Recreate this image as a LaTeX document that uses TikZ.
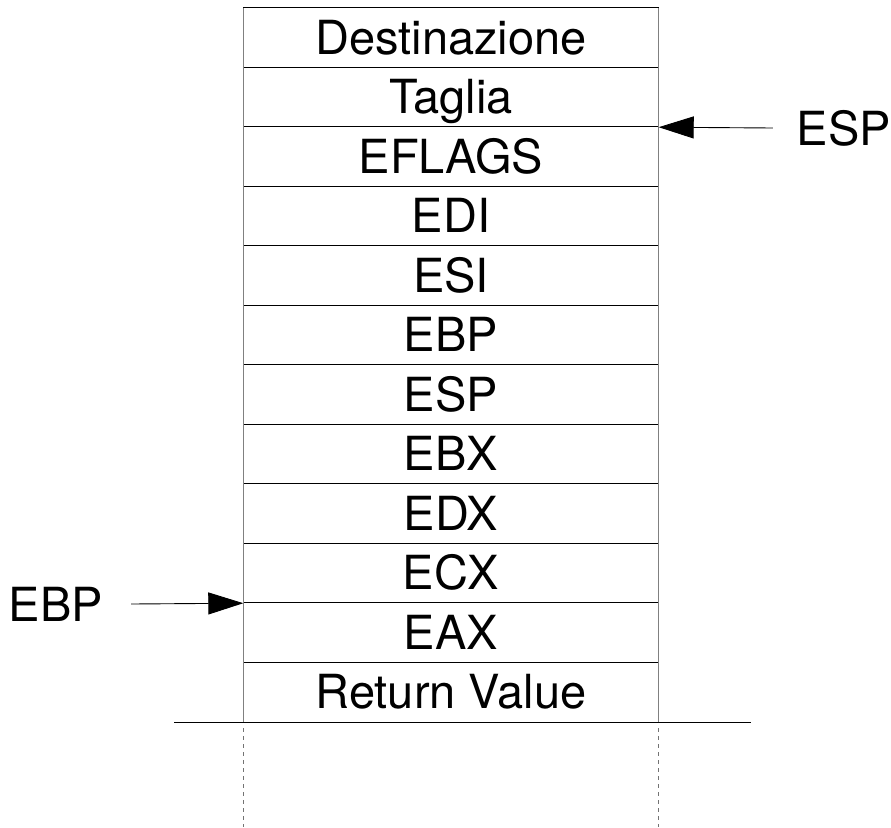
\documentclass[tikz,border=0pt]{standalone}
\usepackage{fontspec}
\setmainfont{TeX Gyre Heros}
\usetikzlibrary{arrows.meta,positioning,calc}

\tikzset{
  cell/.style={minimum width=415pt, minimum height=59.5pt, inner sep=0pt,
    text height=33pt, text depth=0pt, font=\fontsize{47}{50}\selectfont},
  hline/.style={black, line width=1.1pt},
  vline/.style={gray, line width=1.1pt},
  guide/.style={gray!90!black, line width=1.4pt, dash pattern=on 4pt off 4pt},
  ptr/.style={black, line width=0.9pt, -{Triangle[length=35pt,width=22pt]}},
  reg/.style={font=\fontsize{47}{50}\selectfont, inner sep=0pt}
}

\begin{document}
\begin{tikzpicture}[x=1pt, y=-1pt]
    \useasboundingbox (0,0) rectangle (891,827);

    % Stack cells
    \foreach \lbl [count=\i] in {Destinazione, Taglia, EFLAGS, EDI, ESI, EBP, ESP, EBX, EDX, ECX, EAX, Return Value}
        \node[cell] (r\i) at (451, {8+59.5*(\i-0.5)}) {\lbl};

    % Separators
    \foreach \i in {1,...,12}
        \draw[hline] (r\i.north west) -- (r\i.north east);
    \draw[vline] (r1.north west) -- (r12.south west);
    \draw[vline] (r1.north east) -- (r12.south east);

    % Base of the stack
    \coordinate (baseL) at ($(r12.south west)+(-69,0)$);
    \coordinate (baseR) at ($(r12.south east)+(92,0)$);
    \draw[hline] (baseL) -- (baseR);

    % Continuation below
    \coordinate (contL) at ($(r12.south west)+(0,6)$);
    \coordinate (contR) at ($(r12.south east)+(0,6)$);
    \draw[guide] (contL) -- (contL |- 0,827);
    \draw[guide] (contR) -- (contR |- 0,827);

    % Stack pointer
    \node[reg] (esp) at (844,128) {ESP};
    \coordinate (espstart) at ($(esp.west)+(-24,0)$);
    \draw[ptr] (espstart) -- (r2.south east);

    % Base pointer
    \node[reg] (ebp) at (56,604) {EBP};
    \coordinate (ebpstart) at ($(ebp.east)+(28,0)$);
    \draw[ptr] (ebpstart) -- (r10.south west);
\end{tikzpicture}
\end{document}
